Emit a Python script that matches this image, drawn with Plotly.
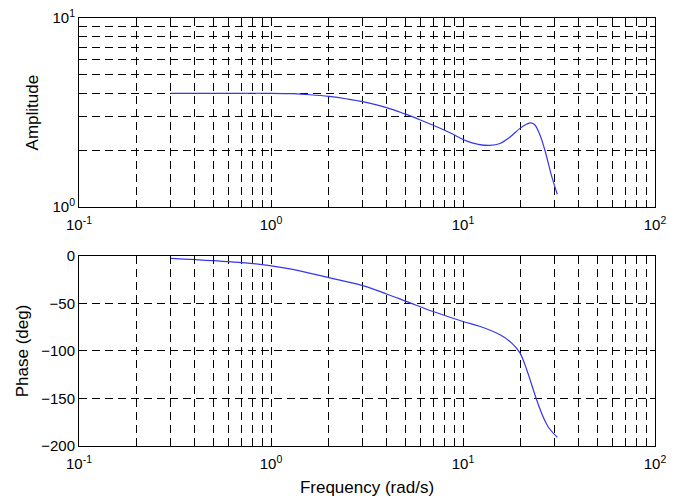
import plotly.graph_objects as go
from plotly.subplots import make_subplots

# ---- data ----
freq_amp = [0.3, 0.5, 0.7, 1.0, 1.3, 1.6, 2.0, 2.5, 3.0, 4.0, 4.9, 6.0, 7.3, 8.5, 10.4, 12.0,
            13.8, 15.6, 17.6, 19.8, 21.5, 22.6, 23.7, 25.2, 26.7, 29.0, 31.0]
amplitude = [4.0, 4.0, 4.0, 4.0, 3.98, 3.93, 3.85, 3.73, 3.61, 3.36, 3.13, 2.89, 2.66, 2.48, 2.24, 2.15,
             2.12, 2.17, 2.35, 2.61, 2.75, 2.79, 2.72, 2.40, 2.00, 1.45, 1.17]

freq_ph = [0.3, 0.5, 0.78, 1.21, 2.0, 3.0, 4.0, 5.1, 7.0, 10.0, 12.2, 15.6, 18.0, 19.8, 21.5,
           24.2, 26.1, 27.8, 31.0]
phase = [-2.5, -5.0, -7.7, -13.0, -22.8, -31.2, -40.0, -48.0, -58.5, -69.0, -74.0, -83.0, -92.0, -102.0, -120.0,
         -151.6, -169.0, -180.0, -191.0]

x_tickvals = [m * 10 ** e for e in (-1, 0, 1) for m in range(1, 10)] + [100]
x_ticktext = [("10<sup>%d</sup>" % e if m == 1 else "") for e in (-1, 0, 1) for m in range(1, 10)] + ["10<sup>2</sup>"]
amp_tickvals = list(range(1, 11))
amp_ticktext = ["10<sup>0</sup>"] + [""] * 8 + ["10<sup>1</sup>"]
ph_tickvals = [0, -50, -100, -150, -200]

FONT = "Liberation Sans, Arial"
tick_font = dict(size=15, color="black", family=FONT)
title_font = dict(size=17, color="black", family=FONT)

fig = make_subplots(rows=2, cols=1, vertical_spacing=0.114)

line_style = dict(color="#3636ee", width=1.2)
fig.add_trace(go.Scatter(x=freq_amp, y=amplitude, mode="lines", line=line_style,
                         line_shape="spline", showlegend=False), row=1, col=1)
fig.add_trace(go.Scatter(x=freq_ph, y=phase, mode="lines", line=line_style,
                         line_shape="spline", showlegend=False), row=2, col=1)

axis_common = dict(showline=True, linecolor="black", linewidth=1, mirror="allticks",
                   ticks="inside", ticklen=5, tickcolor="black",
                   showgrid=True, gridcolor="black", gridwidth=1, griddash="8px,5px",
                   zeroline=False, tickfont=tick_font, automargin=False)

for r in (1, 2):
    fig.update_xaxes(type="log", range=[-1, 2], tickmode="array", tickvals=x_tickvals,
                     ticktext=x_ticktext, ticklabelstandoff=4, row=r, col=1, **axis_common)

fig.update_xaxes(title_text="Frequency (rad/s)", title_standoff=10,
                 title_font=title_font, row=2, col=1)

fig.update_yaxes(type="log", range=[0, 1], tickmode="array", tickvals=amp_tickvals,
                 ticktext=amp_ticktext, title_text="Amplitude", title_font=title_font,
                 title_standoff=9, row=1, col=1, **axis_common)
fig.update_yaxes(range=[-200, 0], tickmode="array", tickvals=ph_tickvals,
                 title_text="Phase (deg)", title_font=title_font, title_standoff=8,
                 row=2, col=1, **axis_common)

fig.update_layout(width=687, height=502, margin=dict(l=79, r=32, t=18, b=56),
                  paper_bgcolor="white", plot_bgcolor="white",
                  font=dict(family=FONT, size=15, color="black"))
fig.update_yaxes(domain=[0.558, 1.0], row=1, col=1)
fig.update_yaxes(domain=[0.0, 0.444], row=2, col=1)

fig.write_html("out.html")
